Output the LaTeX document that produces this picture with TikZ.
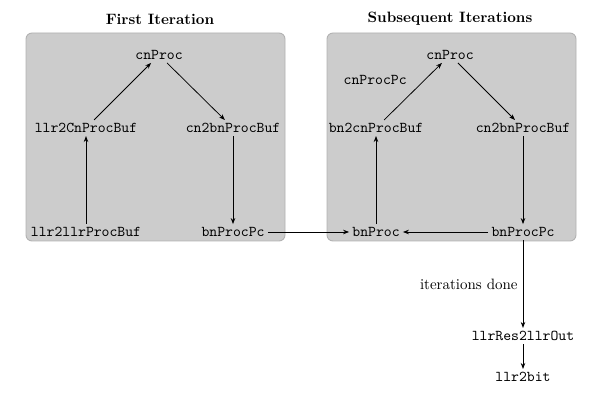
\documentclass[tikz,border=0pt]{standalone}
\usetikzlibrary{arrows.meta}

\newlength{\du}
\setlength{\du}{0.6667pt}

\tikzset{
  proc/.style={font=\ttfamily, inner sep=2pt},
  stage/.style={draw=black!30, fill=black!20, line width=0.6pt, rounded corners=6\du},
  flow/.style={-{Stealth[length=4pt,width=3pt]}, line width=0.5pt},
  heading/.style={font=\bfseries}
}

\begin{document}
\begin{tikzpicture}
\pgftransformxscale{1.000000}
\pgftransformyscale{-1.000000}
\useasboundingbox (0\du,0\du) rectangle (615\du,407\du);
% stage backgrounds
\draw[stage] (26\du,33\du) rectangle (285\du,241\du);
\draw[stage] (327\du,33\du) rectangle (576\du,241\du);
\node[heading] (firstTitle) at (160\du,19\du){First Iteration};
\node[heading] (nextTitle) at (450\du,19\du){Subsequent Iterations};
% first iteration
\node[proc] (fCnProc) at (159\du,55\du){cnProc};
\node[proc] (fLlr2Cn) at (86\du,128\du){llr2CnProcBuf};
\node[proc] (fCn2Bn) at (233\du,128\du){cn2bnProcBuf};
\node[proc] (fLlr2Llr) at (86\du,232\du){llr2llrProcBuf};
\node[proc] (fBnPc) at (233\du,232\du){bnProcPc};
% subsequent iterations
\node[proc] (sCnProc) at (450\du,55\du){cnProc};
\node[proc] (sBn2Cn) at (376\du,128\du){bn2cnProcBuf};
\node[proc] (sCn2Bn) at (523\du,128\du){cn2bnProcBuf};
\node[proc] (sBnProc) at (376\du,232\du){bnProc};
\node[proc] (sBnPc) at (523\du,232\du){bnProcPc};
% output
\node[proc] (llrOut) at (523\du,336\du){llrRes2llrOut};
\node[proc] (llrBit) at (523\du,377\du){llr2bit};
% connectors
\draw[flow] (fLlr2Llr) -- (fLlr2Cn);
\draw[flow] (fLlr2Cn) -- (fCnProc);
\draw[flow] (fCnProc) -- (fCn2Bn);
\draw[flow] (fCn2Bn) -- (fBnPc);
\draw[flow] (fBnPc) -- (sBnProc);
\draw[flow] (sBnProc) -- (sBn2Cn);
\draw[flow] (sBn2Cn) -- node[proc, above left, inner sep=4pt]{cnProcPc} (sCnProc);
\draw[flow] (sCnProc) -- (sCn2Bn);
\draw[flow] (sCn2Bn) -- (sBnPc);
\draw[flow] (sBnPc) -- (sBnProc);
\draw[flow] (sBnPc) -- node[left]{iterations done} (llrOut);
\draw[flow] (llrOut) -- (llrBit);
\end{tikzpicture}
\end{document}
